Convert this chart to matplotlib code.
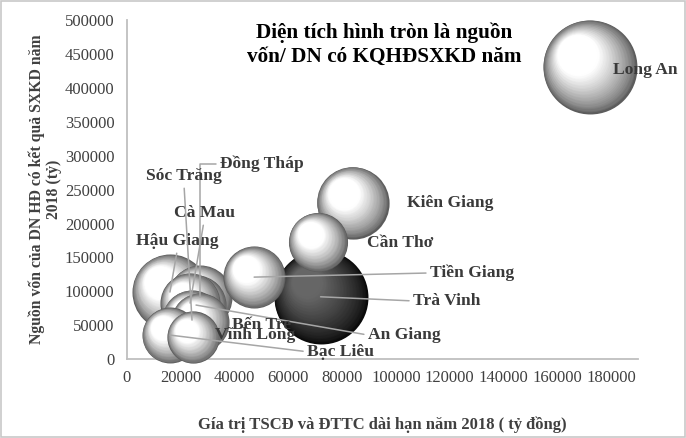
import matplotlib
matplotlib.use("Agg")
import matplotlib.pyplot as plt
from matplotlib.transforms import offset_copy
from matplotlib.patches import Rectangle
import numpy as np

# ---------------- data ----------------
provinces = ["Long An", "Kiên Giang", "Cần Thơ", "Trà Vinh", "Tiền Giang",
             "Hậu Giang", "Đồng Tháp", "Cà Mau", "An Giang", "Sóc Trăng",
             "Bạc Liêu", "Bến Tre", "Vĩnh Long"]
# Giá trị TSCĐ và ĐTTC dài hạn năm 2018 (tỷ đồng)
tscd = [172000, 84000, 71000, 72000, 47300, 16000, 27200, 23500, 25700,
        24200, 16000, 27200, 24600]
# Nguồn vốn của DN HĐ có kết quả SXKD năm 2018 (tỷ)
nguon_von = [431000, 231000, 173000, 92000, 121000, 99000, 91600, 82700,
             79800, 57600, 35500, 54700, 32500]
# Nguồn vốn / DN (bubble area)
von_dn = [110, 65, 43.5, 110, 48, 72, 51, 45, 45, 45, 39, 42, 34]

xticks = list(range(0, 180001, 20000))
yticks = list(range(0, 500001, 50000))

title = "Diện tích hình tròn là nguồn\nvốn/ DN có KQHĐSXKD năm"
xlabel = "Gía trị TSCĐ và ĐTTC dài hạn năm 2018 ( tỷ đồng)"
ylabel = "Nguồn vốn của DN HĐ có kết quả SXKD năm\n2018 (tỷ)"

# ---------------- label layout (offset points, leader style) ----------------
label_layout = {
    "Long An":    ((40, -2), None),
    "Kiên Giang": ((70, 0), None),
    "Cần Thơ":    ((59, -1), None),
    "Tiền Giang": ((157, 3), (0, 0.5)),
    "Trà Vinh":   ((91, -3), (0, 0.5)),
    "An Giang":   ((150, -21.6), (0, 0.5)),
    "Bạc Liêu":   ((123, -12), (0, 0.5)),
    "Bến Tre":    ((44, -2), None),
    "Vĩnh Long":  ((45, 1.4), None),
    "Hậu Giang":  ((5.4, 36.7), (0.5, 0)),
    "Cà Mau":     ((10, 64.8), (0.5, 0)),
    "Sóc Trăng":  ((-5.8, 103.7), (0.5, 0)),
    "Đồng Tháp":  ((44.6, 95.8), "elbow"),
}

SERIF = "Liberation Serif"
plt.rcParams["font.family"] = [SERIF, "DejaVu Serif"]

fig = plt.figure(figsize=(6.86, 4.38), dpi=100)
ax = fig.add_axes([0.185, 0.180, 0.745, 0.774])

# border of chart area
fig.patches.append(Rectangle((0.001, 0.002), 0.997, 0.996, transform=fig.transFigure,
                             fill=False, edgecolor="#c8c8c8", linewidth=1.2))

ax.set_xlim(0, 190000)
ax.set_ylim(0, 500000)
ax.set_xticks(xticks)
ax.set_yticks(yticks)
ax.set_xticklabels([str(t) for t in xticks])
ax.set_yticklabels([str(t) for t in yticks])
ax.tick_params(length=0, labelsize=12, colors="#404040")
ax.tick_params(axis="y", pad=9)
ax.tick_params(axis="x", pad=8)
for s in ["top", "right"]:
    ax.spines[s].set_visible(False)
for s in ["left", "bottom"]:
    ax.spines[s].set_color("#bfbfbf")
    ax.spines[s].set_linewidth(1.3)

# ---------------- bubbles with sphere shading ----------------
k = 41.6  # area scale (points^2 per unit)
N = 40
order = np.argsort(von_dn)[::-1]
for rank, i in enumerate(order):
    s_full = von_dn[i] * k
    R = np.sqrt(s_full) / 2.0  # radius in points
    dark = provinces[i] == "Trà Vinh"
    if dark:
        e, h, reach = 0.04, 0.40, 0.75
    else:
        e, h, reach = 0.36, 1.0, 0.62
    for j in range(N):
        t = j / (N - 1)
        f = 1.0 - 0.9 * t
        off = (1.0 - f) * R * 0.62
        tr = offset_copy(ax.transData, fig=fig, x=-off * 0.72, y=off * 0.72, units="points")
        u = min(1.0, t / reach)
        lvl = e + (h - e) * (u ** 0.75)
        ax.scatter([tscd[i]], [nguon_von[i]], s=s_full * f * f, color=str(min(lvl, 1.0)),
                   transform=tr, linewidths=0, zorder=2 + rank + j / 100.0, clip_on=False)

# ---------------- labels ----------------
for i, name in enumerate(provinces):
    (dx, dy), lead = label_layout[name]
    kw = dict(xy=(tscd[i], nguon_von[i]), xytext=(dx, dy), textcoords="offset points",
              ha="center", va="center", fontsize=12.6, fontweight="bold",
              color="#3a3a3a", zorder=40)
    if lead == "elbow":
        kw["arrowprops"] = dict(arrowstyle="-", color="#a6a6a6", lw=1.1, relpos=(0, 0.5),
                                connectionstyle="angle,angleA=0,angleB=90,rad=0",
                                shrinkA=1, shrinkB=0)
    elif lead is not None:
        kw["arrowprops"] = dict(arrowstyle="-", color="#a6a6a6", lw=1.1, relpos=lead,
                                shrinkA=1, shrinkB=0)
    ann = ax.annotate(name, **kw)
    if lead is not None:
        ann.arrow_patch.set_zorder(30)

fig.text(0.56, 0.898, title, ha="center", va="center", fontsize=15.3, fontweight="bold",
         color="black", linespacing=1.3)

ax.set_xlabel(xlabel, fontsize=12, fontweight="bold", color="#404040", labelpad=22)
ax.set_ylabel(ylabel, fontsize=11.3, fontweight="bold", color="#404040", labelpad=2,
              linespacing=1.1)

fig.savefig("out.png", dpi=100, facecolor="white")
